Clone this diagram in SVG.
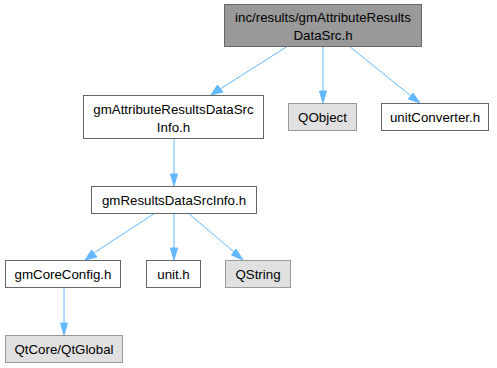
<svg xmlns="http://www.w3.org/2000/svg" width="497" height="368" viewBox="0 0 497 368">
<style>
.n{fill:#fff;stroke:#666;stroke-width:1}
.r{fill:#999;stroke:#666;stroke-width:1}
.x{fill:#e0e0e0;stroke:#999;stroke-width:1}
text{font-family:"Liberation Sans",Arial,sans-serif;font-size:13.3px;text-anchor:middle;fill:#000}
.e{stroke:#63b8ff;stroke-width:1;fill:none}
.h{fill:#63b8ff;stroke:#63b8ff}
</style>
<rect width="497" height="368" fill="#fff"/>
<g id="edges">
<path class="e" d="M288,46 L220,89"/><polygon class="h" points="217.5,85 211,95 223,92"/>
<path class="e" d="M323,46 L323,92"/><polygon class="h" points="319.5,91 323,103 326.5,91"/>
<path class="e" d="M349,46 L411,96"/><polygon class="h" points="408.5,99 420,103 413,93"/>
<path class="e" d="M174,139 L174,175"/><polygon class="h" points="170.5,174 174,186 177.5,174"/>
<path class="e" d="M155,213 L94,253"/><polygon class="h" points="91.5,250 85,260 97,257"/>
<path class="e" d="M174,213 L174,249"/><polygon class="h" points="170.5,248 174,260 177.5,248"/>
<path class="e" d="M188,213 L234,252"/><polygon class="h" points="231.5,255 243,260 236,249"/>
<path class="e" d="M64,287 L64,324"/><polygon class="h" points="60.5,323 64,335 67.5,323"/>
</g>
<g id="root"><rect class="r" x="224.5" y="4.5" width="197" height="42"/><text x="323" y="22">inc/results/gmAttributeResults</text><text x="323" y="40">DataSrc.h</text></g>
<g id="gmAttributeResultsDataSrcInfo"><rect class="n" x="83.5" y="95.5" width="180" height="43"/><text x="173.5" y="114">gmAttributeResultsDataSrc</text><text x="173.5" y="132">Info.h</text></g>
<g id="QObject"><rect class="x" x="288.5" y="103.5" width="68" height="27"/><text x="322.5" y="121.5">QObject</text></g>
<g id="unitConverter"><rect class="n" x="381.5" y="103.5" width="107" height="27"/><text x="435" y="121.5">unitConverter.h</text></g>
<g id="gmResultsDataSrcInfo"><rect class="n" x="91.5" y="186.5" width="165" height="27"/><text x="174" y="204.5">gmResultsDataSrcInfo.h</text></g>
<g id="gmCoreConfig"><rect class="n" x="5.5" y="260.5" width="115" height="27"/><text x="63" y="278.5">gmCoreConfig.h</text></g>
<g id="unit"><rect class="n" x="146.5" y="260.5" width="54" height="27"/><text x="173.5" y="278.5">unit.h</text></g>
<g id="QString"><rect class="x" x="225.5" y="260.5" width="65" height="27"/><text x="258" y="278.5">QString</text></g>
<g id="QtGlobal"><rect class="x" x="5.5" y="335.5" width="117" height="27"/><text x="64" y="353.5">QtCore/QtGlobal</text></g>
</svg>
